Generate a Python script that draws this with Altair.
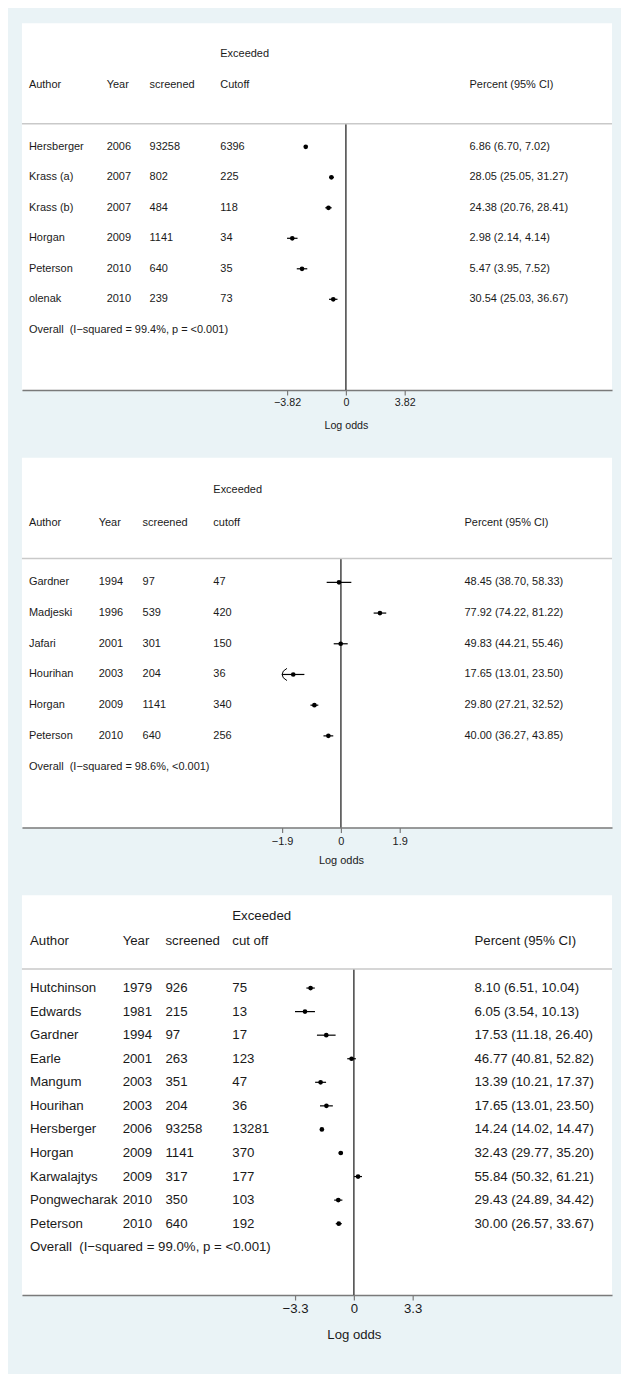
import altair as alt
import pandas as pd

# ---------------- data: panel 1 ----------------
authors1 = ["Hersberger", "Krass (a)", "Krass (b)", "Horgan", "Peterson", "olenak"]
years1 = [2006, 2007, 2007, 2009, 2010, 2010]
screened1 = [93258, 802, 484, 1141, 640, 239]
exceeded1 = [6396, 225, 118, 34, 35, 73]
pct1 = [6.86, 28.05, 24.38, 2.98, 5.47, 30.54]
lo1 = [6.70, 25.05, 20.76, 2.14, 3.95, 25.03]
hi1 = [7.02, 31.27, 28.41, 4.14, 7.52, 36.67]
overall1 = "Overall\u00a0\u00a0(I\u2212squared = 99.4%, p = <0.001)"
cutlabel1 = "Cutoff"
tick1 = 3.82

# ---------------- data: panel 2 ----------------
authors2 = ["Gardner", "Madjeski", "Jafari", "Hourihan", "Horgan", "Peterson"]
years2 = [1994, 1996, 2001, 2003, 2009, 2010]
screened2 = [97, 539, 301, 204, 1141, 640]
exceeded2 = [47, 420, 150, 36, 340, 256]
pct2 = [48.45, 77.92, 49.83, 17.65, 29.80, 40.00]
lo2 = [38.70, 74.22, 44.21, 13.01, 27.21, 36.27]
hi2 = [58.33, 81.22, 55.46, 23.50, 32.52, 43.85]
overall2 = "Overall\u00a0\u00a0(I\u2212squared = 98.6%, <0.001)"
cutlabel2 = "cutoff"
tick2 = 1.9

# ---------------- data: panel 3 ----------------
authors3 = ["Hutchinson", "Edwards", "Gardner", "Earle", "Mangum", "Hourihan",
            "Hersberger", "Horgan", "Karwalajtys", "Pongwecharak", "Peterson"]
years3 = [1979, 1981, 1994, 2001, 2003, 2003, 2006, 2009, 2009, 2010, 2010]
screened3 = [926, 215, 97, 263, 351, 204, 93258, 1141, 317, 350, 640]
exceeded3 = [75, 13, 17, 123, 47, 36, 13281, 370, 177, 103, 192]
pct3 = [8.10, 6.05, 17.53, 46.77, 13.39, 17.65, 14.24, 32.43, 55.84, 29.43, 30.00]
lo3 = [6.51, 3.54, 11.18, 40.81, 10.21, 13.01, 14.02, 29.77, 50.32, 24.89, 26.57]
hi3 = [10.04, 10.13, 26.40, 52.82, 17.37, 23.50, 14.47, 35.20, 61.21, 34.42, 33.67]
overall3 = "Overall\u00a0\u00a0(I\u2212squared = 99.0%, p = <0.001)"
cutlabel3 = "cut off"
tick3 = 3.3

# ---------------- styling ----------------
BG = "#eaf3f6"
FONT = "Liberation Sans"
TXT = "#1a1a1a"
W = 592
ARROW = "M0.8,-1 Q0,-0.6 0,0 Q0,0.6 0.8,1"


def panel(authors, years, screened, exceeded, pct, lo, hi, overall, cutlabel, tick,
          H, zero_px, tick_fmt, fs, tfs, y_exc, y_hdr, y_line, y_row0, dy, cols,
          arrow_min, title_y):
    n = len(authors)
    unit_px = 59.0 / tick
    df = pd.DataFrame({
        "author": authors, "year": [str(v) for v in years],
        "screened": [str(v) for v in screened], "exceeded": [str(v) for v in exceeded],
        "pct": pct, "lo": lo, "hi": hi, "row": list(range(n)),
    })
    df["ci"] = [f"{p:.2f} ({l:.2f}, {h:.2f})" for p, l, h in zip(pct, lo, hi)]

    xs = alt.Scale(domain=[-zero_px / unit_px, (W - zero_px) / unit_px], nice=False, zero=False)
    ys = alt.Scale(domain=[-y_row0 / dy, (H - y_row0) / dy], nice=False, zero=False, reverse=True)

    axis = alt.Axis(
        values=[-tick, 0, tick],
        labelExpr=f"datum.value == 0 ? '0' : format(datum.value, '{tick_fmt}')",
        title="Log odds", grid=False,
        domainColor="#7a7a7a", domainWidth=1.5,
        tickColor="#7a7a7a", tickSize=5, tickWidth=1.2,
        labelFont=FONT, labelFontSize=tfs, labelColor=TXT, labelPadding=3,
        labelFlush=False, labelOverlap=False,
        titleFont=FONT, titleFontSize=tfs, titleFontWeight="normal", titleColor=TXT,
        titleX=zero_px, titleY=title_y, titleAlign="center", titleBaseline="middle",
    )

    base = alt.Chart(df).transform_calculate(
        lp="log(datum.pct/(100-datum.pct))",
        lraw="log(datum.lo/(100-datum.lo))",
        ll=f"max(log(datum.lo/(100-datum.lo)), {arrow_min})",
        lh="log(datum.hi/(100-datum.hi))",
    )

    one = alt.Chart(pd.DataFrame({"z": [0]}))

    zero_rule = one.mark_rule(color="#444444", strokeWidth=1.5).encode(
        x=alt.X("z:Q", scale=xs, axis=axis), y=alt.value(y_line), y2=alt.value(H))

    header_rule = one.mark_rule(color="#c9c9c9", strokeWidth=1.5).encode(
        x=alt.value(0), x2=alt.value(W), y=alt.value(y_line))

    ci = base.mark_rule(color="black", strokeWidth=1.2).encode(
        x=alt.X("ll:Q", scale=xs, axis=axis),
        x2="lh:Q",
        y=alt.Y("row:Q", scale=ys, axis=None),
    )
    pts = base.mark_point(filled=True, shape="circle", size=22, color="black", opacity=1).encode(
        x=alt.X("lp:Q", scale=xs, axis=axis),
        y=alt.Y("row:Q", scale=ys, axis=None),
    )
    arrows = base.transform_filter(f"datum.lraw < {arrow_min}").mark_point(
        shape=ARROW, filled=False, stroke="black", strokeWidth=1, size=150, opacity=1
    ).encode(
        x=alt.X("ll:Q", scale=xs, axis=axis),
        y=alt.Y("row:Q", scale=ys, axis=None),
    )

    layers = [zero_rule, header_rule, ci, pts, arrows]
    for field, px in cols.items():
        layers.append(
            base.mark_text(align="left", baseline="middle", font=FONT, fontSize=fs, color=TXT).encode(
                x=alt.value(px), y=alt.Y("row:Q", scale=ys, axis=None), text=f"{field}:N")
        )

    hdr_t = ["Author", "Year", "screened", cutlabel, "Percent (95% CI)"]
    hdr_k = ["author", "year", "screened", "exceeded", "ci"]
    for t, k in zip(hdr_t, hdr_k):
        layers.append(
            alt.Chart(pd.DataFrame({"t": [t]})).mark_text(
                align="left", baseline="middle", font=FONT, fontSize=fs, color=TXT).encode(
                x=alt.value(cols[k]), y=alt.value(y_hdr), text="t:N")
        )
    layers.append(
        alt.Chart(pd.DataFrame({"t": ["Exceeded"]})).mark_text(
            align="left", baseline="middle", font=FONT, fontSize=fs, color=TXT).encode(
            x=alt.value(cols["exceeded"]), y=alt.value(y_exc), text="t:N")
    )
    layers.append(
        alt.Chart(pd.DataFrame({"t": [overall]})).mark_text(
            align="left", baseline="middle", font=FONT, fontSize=fs, color=TXT).encode(
            x=alt.value(cols["author"]), y=alt.value(y_row0 + n * dy), text="t:N")
    )
    return alt.layer(*layers).properties(width=W, height=H)


p1 = panel(authors1, years1, screened1, exceeded1, pct1, lo1, hi1, overall1, cutlabel1, tick1,
           H=368, zero_px=325, tick_fmt=".2f", fs=11, tfs=10.7,
           y_exc=31, y_hdr=62, y_line=101, y_row0=124, dy=30.6,
           cols={"author": 7, "year": 85, "screened": 128, "exceeded": 199, "ci": 449},
           arrow_min=-99, title_y=36)

p2 = panel(authors2, years2, screened2, exceeded2, pct2, lo2, hi2, overall2, cutlabel2, tick2,
           H=371, zero_px=320, tick_fmt=".1f", fs=11, tfs=11,
           y_exc=32, y_hdr=65, y_line=101, y_row0=125, dy=30.8,
           cols={"author": 7, "year": 77, "screened": 121, "exceeded": 192, "ci": 444},
           arrow_min=-1.9, title_y=33)

p3 = panel(authors3, years3, screened3, exceeded3, pct3, lo3, hi3, overall3, cutlabel3, tick3,
           H=401, zero_px=333, tick_fmt=".1f", fs=13.3, tfs=13.2,
           y_exc=21, y_hdr=46, y_line=74, y_row0=93, dy=23.64,
           cols={"author": 8, "year": 101, "screened": 144, "exceeded": 211, "ci": 454},
           arrow_min=-99, title_y=40)

chart = alt.vconcat(p1, p2, p3, spacing=68, bounds="flush").properties(
    background=BG,
    padding={"left": 13, "top": 13, "right": 8, "bottom": 40},
).configure_view(stroke=None, fill="white")

chart.save("out.html", embed_options={"renderer": "svg", "actions": False})
